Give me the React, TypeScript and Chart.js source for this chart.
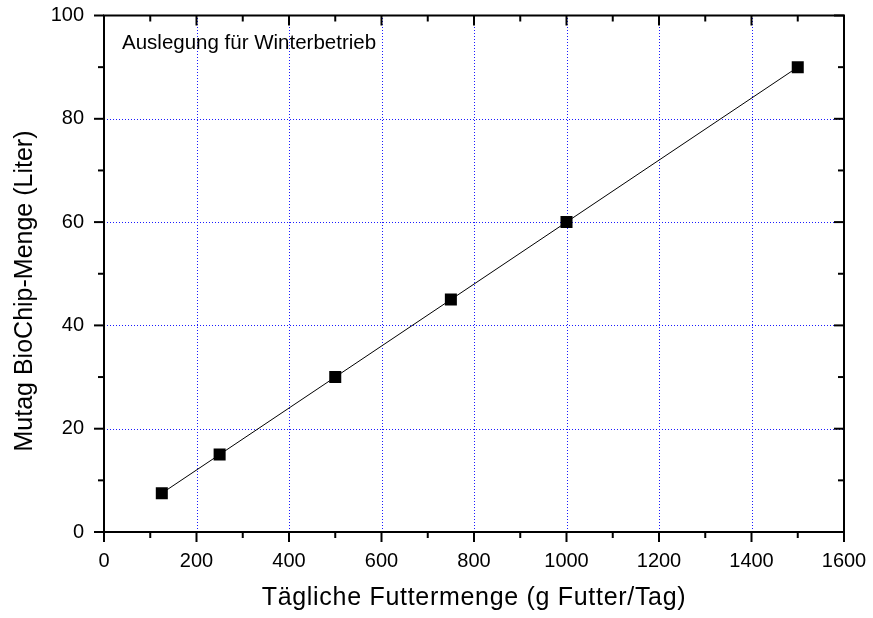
import { useEffect, useRef } from 'react';
import { Chart, registerables } from 'chart.js';

Chart.register(...registerables);

const feedGrams = [125, 250, 500, 750, 1000, 1500];
const chipLiters = [7.5, 15, 30, 45, 60, 90];
const xMajorTicks = [0, 200, 400, 600, 800, 1000, 1200, 1400, 1600];
const xMinorTicks = [100, 300, 500, 700, 900, 1100, 1300, 1500];
const yMajorTicks = [0, 20, 40, 60, 80, 100];
const yMinorTicks = [10, 30, 50, 70, 90];
const xTitle = 'Tägliche Futtermenge (g Futter/Tag)';
const yTitle = 'Mutag BioChip-Menge (Liter)';
const annotation = 'Auslegung für Winterbetrieb';

const FONT = '"Liberation Sans", Arial, sans-serif';

const framePlugin = {
  id: 'originFrame',
  beforeDatasetsDraw(chart: any) {
    const { ctx, chartArea: a, scales } = chart;
    const xs = scales.x;
    const ys = scales.y;
    ctx.save();
    ctx.strokeStyle = '#1a1aff';
    ctx.lineWidth = 1;
    ctx.setLineDash([1, 2]);
    xMajorTicks.slice(1, -1).forEach((v) => {
      const px = Math.round(xs.getPixelForValue(v)) + 0.5;
      ctx.beginPath();
      ctx.moveTo(px, a.bottom);
      ctx.lineTo(px, a.top);
      ctx.stroke();
    });
    yMajorTicks.slice(1, -1).forEach((v) => {
      const py = Math.round(ys.getPixelForValue(v)) + 0.5;
      ctx.beginPath();
      ctx.moveTo(a.left, py);
      ctx.lineTo(a.right, py);
      ctx.stroke();
    });
    ctx.restore();
  },
  afterDraw(chart: any) {
    const { ctx, chartArea: a, scales } = chart;
    const xs = scales.x;
    const ys = scales.y;
    ctx.save();
    ctx.strokeStyle = '#000';
    ctx.lineWidth = 2;
    ctx.setLineDash([]);
    ctx.strokeRect(a.left, a.top, a.right - a.left, a.bottom - a.top);
    const major = 10;
    const minor = 6;
    const tick = (x1: number, y1: number, x2: number, y2: number) => {
      ctx.beginPath();
      ctx.moveTo(x1, y1);
      ctx.lineTo(x2, y2);
      ctx.stroke();
    };
    xMajorTicks.forEach((v) => {
      const px = xs.getPixelForValue(v);
      tick(px, a.bottom, px, a.bottom + major);
      tick(px, a.top, px, a.top + major);
    });
    xMinorTicks.forEach((v) => {
      const px = xs.getPixelForValue(v);
      tick(px, a.bottom, px, a.bottom + minor);
      tick(px, a.top, px, a.top + minor);
    });
    yMajorTicks.forEach((v) => {
      const py = ys.getPixelForValue(v);
      tick(a.left, py, a.left - major, py);
      tick(a.right, py, a.right - major, py);
    });
    yMinorTicks.forEach((v) => {
      const py = ys.getPixelForValue(v);
      tick(a.left, py, a.left - minor, py);
      tick(a.right, py, a.right - minor, py);
    });

    ctx.fillStyle = '#000';
    ctx.textBaseline = 'alphabetic';
    // annotation
    ctx.font = `20.5px ${FONT}`;
    ctx.textAlign = 'left';
    ctx.fillText(annotation, a.left + 18, 49);
    // x title
    ctx.font = `25px ${FONT}`;
    ctx.textAlign = 'center';
    (ctx as any).letterSpacing = '0.7px';
    ctx.fillText(xTitle, (a.left + a.right) / 2, 605);
    (ctx as any).letterSpacing = '0px';
    // y title
    ctx.translate(32, 291);
    ctx.rotate(-Math.PI / 2);
    ctx.textAlign = 'center';
    ctx.fillText(yTitle, 0, 0);
    ctx.restore();
  },
};

export default function App() {
  const ref = useRef<HTMLCanvasElement | null>(null);
  useEffect(() => {
    if (!ref.current) return;
    const points = feedGrams.map((x, i) => ({ x, y: chipLiters[i] }));
    const chart = new Chart(ref.current, {
      type: 'line',
      data: {
        datasets: [
          {
            data: points,
            borderColor: '#000',
            borderWidth: 1,
            backgroundColor: '#000',
            pointStyle: 'rect',
            pointRadius: 8.5,
            pointBorderWidth: 0,
            pointBackgroundColor: '#000',
            tension: 0,
          },
        ],
      },
      options: {
        animation: false,
        responsive: false,
        layout: { padding: { left: 0, top: 15.5, right: 29, bottom: 0 } },
        plugins: { legend: { display: false }, tooltip: { enabled: false } },
        scales: {
          x: {
            type: 'linear',
            min: 0,
            max: 1600,
            afterFit: (s: any) => {
              s.height = 86;
              s.paddingLeft = 0;
              s.paddingRight = 0;
            },
            afterBuildTicks: (s: any) => {
              s.ticks = xMajorTicks.map((v) => ({ value: v }));
            },
            grid: { display: false, drawTicks: false },
            border: { display: false },
            ticks: {
              padding: 17,
              color: '#000',
              font: { family: FONT, size: 20 },
              maxRotation: 0,
              autoSkip: false,
              callback: (v: any) => String(v),
            },
          },
          y: {
            type: 'linear',
            min: 0,
            max: 100,
            afterFit: (s: any) => {
              s.width = 104;
              s.paddingTop = 0;
              s.paddingBottom = 0;
            },
            afterBuildTicks: (s: any) => {
              s.ticks = yMajorTicks.map((v) => ({ value: v }));
            },
            grid: { display: false, drawTicks: false },
            border: { display: false },
            ticks: {
              padding: 20,
              color: '#000',
              font: { family: FONT, size: 20 },
              autoSkip: false,
              callback: (v: any) => String(v),
            },
          },
        },
      },
      plugins: [framePlugin],
    });
    return () => chart.destroy();
  }, []);
  return (
    <div style={{ position: 'fixed', left: 0, top: 0, width: 873, height: 618, background: '#fff' }}>
      <canvas ref={ref} width={873} height={618} style={{ width: 873, height: 618, display: 'block' }} />
    </div>
  );
}
